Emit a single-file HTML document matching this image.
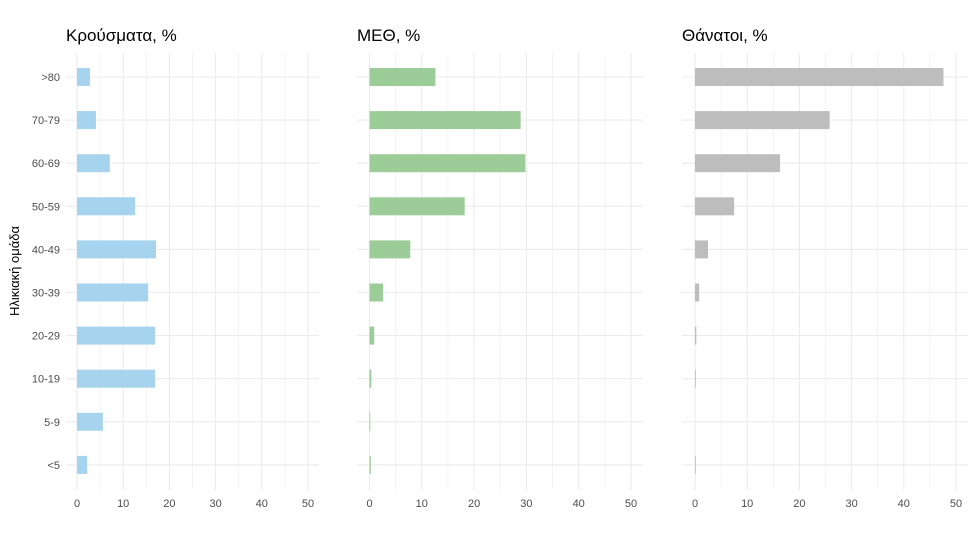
<!DOCTYPE html>
<html><head><meta charset="utf-8"><style>body{margin:0;background:#fff}svg{display:block}</style></head><body>
<svg width="973" height="536" xmlns="http://www.w3.org/2000/svg" font-family="Liberation Sans, DejaVu Sans, sans-serif">
<script>
const svg=document.querySelector('svg');const NS='http://www.w3.org/2000/svg';
function el(t,a,txt){const e=document.createElementNS(NS,t);for(const k in a)e.setAttribute(k,a[k]);if(txt!==undefined)e.textContent=txt;svg.appendChild(e);return e;}
const rows=['>80','70-79','60-69','50-59','40-49','30-39','20-29','10-19','5-9','<5'];
const panels=[
 {x0:77,s:4.62,l:66,r:319,title:'Κρούσματα, %',tx:66,c:'#a6d3ed',v:[2.8,4.1,7.1,12.6,17.1,15.4,16.9,16.9,5.6,2.2]},
 {x0:369.5,s:5.23,l:357,r:643,title:'ΜΕΘ, %',tx:357,c:'#9ccc98',v:[12.6,28.9,29.8,18.2,7.8,2.6,0.9,0.35,0.15,0.25]},
 {x0:695,s:5.22,l:682,r:968,title:'Θάνατοι, %',tx:682,c:'#bdbdbd',v:[47.6,25.8,16.3,7.5,2.5,0.8,0.25,0.15,0,0.15]}];
const yt=i=>77+i*43.1;
panels.forEach(p=>{
 for(let k=0;k<=10;k++){const x=p.x0+k*5*p.s;if(x>p.r)break;el('line',{x1:x,x2:x,y1:53,y2:490,stroke:'#ebebeb','stroke-width':k%2?0.6:1.1});}
 rows.forEach((r,i)=>el('line',{x1:p.l,x2:p.r,y1:yt(i),y2:yt(i),stroke:'#ebebeb','stroke-width':1.1}));
 p.v.forEach((v,i)=>{if(v>0)el('rect',{x:p.x0,y:yt(i)-9,width:Math.max(v*p.s,0.8),height:18,fill:p.c});});
 for(let k=0;k<=5;k++)el('text',{x:p.x0+k*10*p.s,y:507,'text-anchor':'middle','font-size':11,fill:'#4d4d4d'},String(k*10));
 el('text',{x:p.tx,y:41,'font-size':17,fill:'#000'},p.title);
});
rows.forEach((r,i)=>el('text',{x:60,y:yt(i)+4,'text-anchor':'end','font-size':11,fill:'#4d4d4d'},r));
el('text',{x:0,y:0,transform:'translate(19,271) rotate(-90)','text-anchor':'middle','font-size':13,fill:'#000'},'Ηλικιακή ομάδα');
</script>
</svg>
</body></html>
